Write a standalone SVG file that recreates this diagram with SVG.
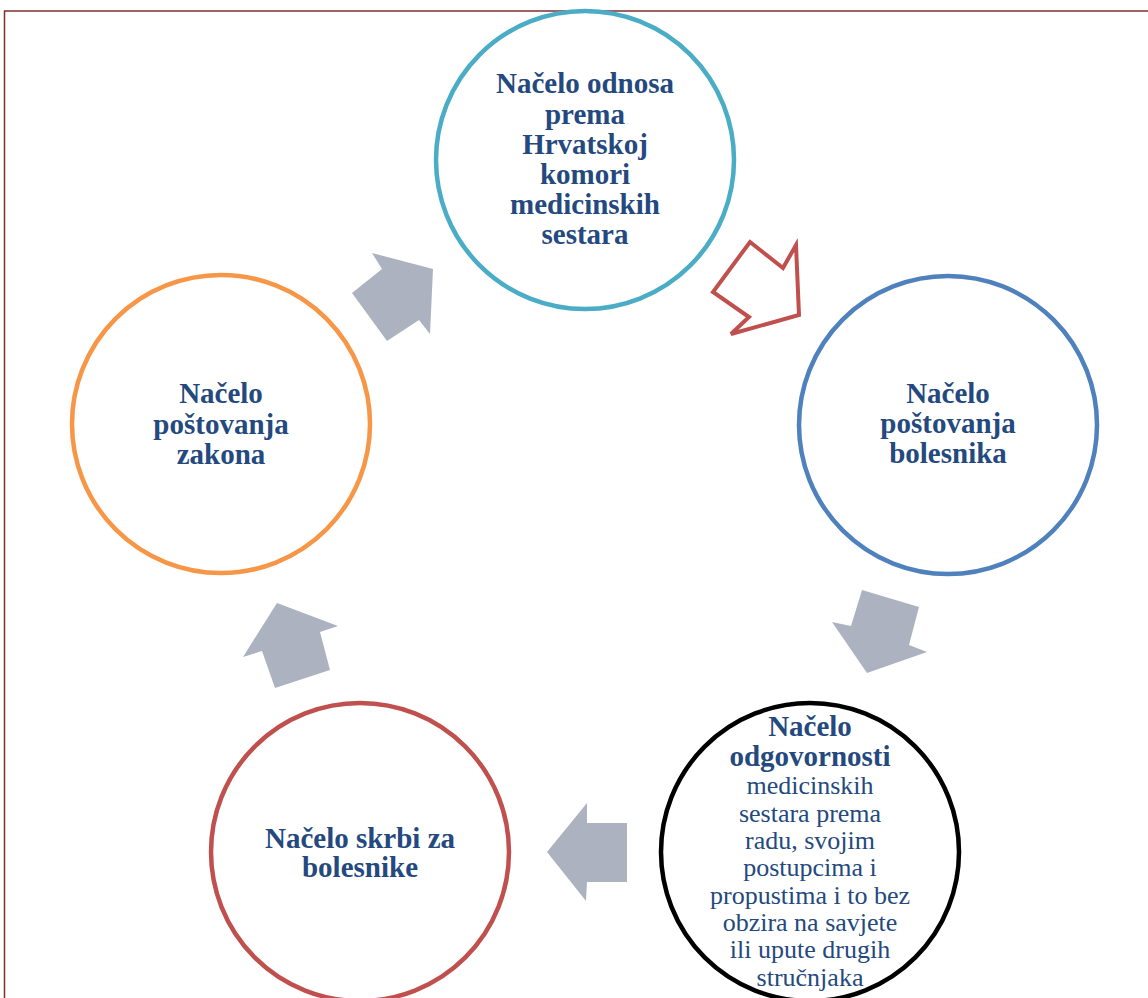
<svg xmlns="http://www.w3.org/2000/svg" width="1148" height="998" viewBox="0 0 1148 998">
<style>
.c{fill:none;stroke-width:4.5}
.t{font-family:"Liberation Serif","Times New Roman",serif;fill:#24497e;text-anchor:middle}
.b{font-weight:bold;font-size:29px}
.r{font-size:26px}
.g{fill:#adb2c0}
</style>
<rect width="1148" height="998" fill="#fff"/>
<path d="M4.5 998 V11 H1148" fill="none" stroke="#7f2f2f" stroke-width="1.5"/>
<g id="connectors">
<polygon class="g" points="372,253 433,269 430,334 419,320 387,341 352,293 382,269"/>
<polygon points="750,242 783,268 796,245 799,315 731,334 749,317 713,292" fill="#fff" stroke="#c0504d" stroke-width="4" stroke-linejoin="miter"/>
<polygon class="g" points="862,590 919,607 909,645 927,652 867,673 832,622 851,626"/>
<polygon class="g" points="587,803 587,823 627,823 627,882 587,882 586,901 547,852"/>
<polygon class="g" points="277,603 338,626 320,632 330,670 275,688 262,651 243,657"/>
</g>
<g id="n-top">
<circle class="c" cx="585" cy="160" r="149" stroke="#4bacc6"/>
<text class="t b"><tspan x="585" y="93">Načelo odnosa</tspan><tspan x="585" y="123.5">prema</tspan><tspan x="585" y="154">Hrvatskoj</tspan><tspan x="585" y="184">komori</tspan><tspan x="585" y="214">medicinskih</tspan><tspan x="585" y="244">sestara</tspan></text>
</g>
<g id="n-right">
<circle class="c" cx="948" cy="425" r="149" stroke="#4f81bd"/>
<text class="t b"><tspan x="948" y="403">Načelo</tspan><tspan x="948" y="433">poštovanja</tspan><tspan x="948" y="463">bolesnika</tspan></text>
</g>
<g id="n-bottom-right">
<circle class="c" cx="810" cy="852" r="149" stroke="#000"/>
<text class="t"><tspan class="b" x="810" y="736">Načelo</tspan><tspan class="b" x="810" y="766">odgovornosti</tspan><tspan class="r" x="810" y="794">medicinskih</tspan><tspan class="r" x="810" y="821.5">sestara prema</tspan><tspan class="r" x="810" y="849">radu, svojim</tspan><tspan class="r" x="810" y="876">postupcima i</tspan><tspan class="r" x="810" y="903.5">propustima i to bez</tspan><tspan class="r" x="810" y="931">obzira na savjete</tspan><tspan class="r" x="810" y="958">ili upute drugih</tspan><tspan class="r" x="810" y="986">stručnjaka</tspan></text>
</g>
<g id="n-bottom-left">
<circle class="c" cx="360" cy="852" r="149" stroke="#c0504d"/>
<text class="t b"><tspan x="360" y="848">Načelo skrbi za</tspan><tspan x="360" y="877">bolesnike</tspan></text>
</g>
<g id="n-left">
<circle class="c" cx="221" cy="424" r="149" stroke="#f79646"/>
<text class="t b"><tspan x="221" y="403">Načelo</tspan><tspan x="221" y="434">poštovanja</tspan><tspan x="221" y="464">zakona</tspan></text>
</g>
</svg>
